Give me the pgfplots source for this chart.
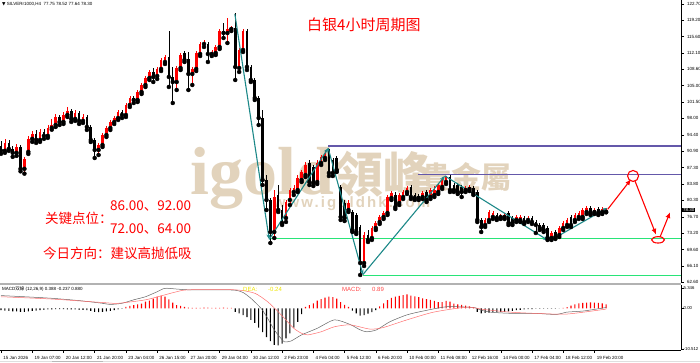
\documentclass[border=0pt]{standalone}
\usepackage{fontspec}
\setmainfont{Liberation Sans}
\newfontfamily\cjk{Noto Sans CJK SC}
\newfontfamily\dejavu{DejaVu Sans}
\newfontfamily\wmserif{Liberation Serif}
\newfontfamily\wmsans[LetterSpace=14]{Liberation Sans}
\usepackage{pgfplots}
\pgfplotsset{compat=1.18}
\usepackage{pgfplotstable}
\usetikzlibrary{arrows.meta}

\definecolor{zig}{RGB}{28,136,136}
\definecolor{purp}{RGB}{100,88,170}
\definecolor{grn}{RGB}{40,228,120}
\definecolor{wm}{RGB}{226,211,188}
\definecolor{dea}{RGB}{238,228,0}
\definecolor{macdred}{RGB}{255,70,70}
\definecolor{difgray}{RGB}{100,100,100}
\definecolor{dealine}{RGB}{255,110,110}

\pgfplotstableread{
i o h l c
0 92.01 93.09 90.28 90.93
1 90.93 93.52 90.50 92.66
2 92.66 93.31 90.93 91.36
3 91.36 92.01 89.63 90.50
4 90.50 92.44 89.85 91.79
5 91.79 92.23 86.50 87.04
6 87.04 89.63 86.00 89.20
7 90.70 94.16 90.27 93.51
8 93.51 95.24 92.86 94.59
9 94.59 95.45 92.65 93.29
10 93.29 95.67 92.86 95.02
11 95.02 95.67 93.51 94.16
12 94.16 96.53 93.73 95.89
13 95.89 97.82 95.50 96.52
14 96.52 98.90 96.09 98.25
15 98.25 98.68 96.52 97.17
16 97.17 99.33 96.74 98.68
17 98.68 100.41 98.25 99.55
18 99.55 99.98 97.17 97.82
19 97.82 99.76 97.39 99.11
20 99.11 99.55 96.74 97.39
21 97.39 98.90 96.95 98.25
22 98.25 98.68 95.44 96.09
23 96.09 96.50 92.84 93.27
24 93.27 93.70 89.38 91.11
25 91.11 92.62 90.03 92.19
26 92.19 94.78 91.76 94.35
27 94.35 96.29 93.92 95.86
28 95.86 97.59 95.43 97.16
29 97.16 98.45 96.73 98.02
30 98.02 99.75 97.59 99.32
31 99.32 99.75 98.02 98.67
32 98.67 101.26 98.24 100.83
33 100.83 102.77 100.40 102.34
34 102.34 102.77 101.26 101.91
35 101.91 104.07 101.48 103.64
36 103.64 105.58 103.21 105.15
37 105.15 107.09 104.72 106.66
38 106.66 108.39 106.23 107.96
39 107.96 108.82 105.80 106.88
40 107.09 109.04 106.45 108.61
41 108.61 110.98 108.17 110.55
42 110.12 111.63 109.69 111.20
43 111.20 116.81 104.72 106.88
44 106.88 109.04 101.26 105.80
45 105.80 109.25 104.07 108.82
46 108.82 112.06 108.39 111.63
47 112.06 112.49 110.12 110.55
48 110.77 112.28 104.07 107.53
49 107.53 109.04 105.15 108.61
50 108.61 112.49 108.17 112.06
51 111.85 114.44 111.41 114.01
52 114.01 114.87 113.36 114.08
53 114.01 114.44 110.12 111.85
54 111.85 112.71 111.41 112.28
55 112.06 113.79 111.63 113.36
56 113.36 117.25 112.93 116.81
57 116.81 118.54 115.30 116.38
58 116.38 119.62 114.22 117.25
59 117.25 117.89 116.81 117.46
60 117.46 120.70 106.23 109.04
61 108.82 113.14 107.96 112.71
62 112.71 117.25 112.28 116.81
63 116.81 117.25 108.39 109.04
64 109.04 109.47 105.80 106.23
65 106.23 106.66 101.91 102.34
66 102.34 102.77 96.51 98.02
67 98.02 99.75 83.55 84.63
68 84.63 85.71 78.15 80.31
69 80.31 80.74 71.02 73.40
70 73.40 82.47 72.10 80.96
71 81.39 83.55 77.72 78.15
72 78.15 79.23 74.91 75.34
73 76.42 80.31 75.56 79.88
74 80.31 82.90 79.23 82.47
75 82.04 83.55 81.39 82.90
76 82.47 85.71 82.04 85.06
77 84.63 86.79 84.20 86.36
78 85.71 88.52 85.28 87.87
79 88.30 88.95 83.55 84.20
80 87.44 87.87 83.33 83.98
81 84.20 88.95 83.77 88.30
82 88.30 90.03 87.87 89.60
83 89.38 90.89 88.95 90.46
84 91.11 91.33 85.49 86.14
85 88.95 89.38 85.49 86.14
86 89.38 89.81 86.36 86.79
87 83.12 83.55 75.99 76.64
88 79.66 80.31 75.77 76.42
89 78.15 80.31 77.72 79.66
90 77.72 78.15 73.40 73.83
91 77.07 77.50 72.97 73.40
92 74.48 74.91 64.11 66.70
93 66.70 73.40 66.05 72.75
94 72.75 73.83 71.24 71.67
95 72.10 74.69 71.67 74.26
96 74.26 75.77 73.83 75.34
97 75.56 77.07 75.13 76.64
98 76.64 77.93 76.21 77.50
99 77.50 81.39 77.07 80.96
100 80.74 82.25 80.31 81.82
101 81.39 82.04 78.37 78.80
102 79.66 81.82 79.23 81.39
103 80.96 82.47 80.53 82.04
104 82.04 83.33 81.61 82.90
105 83.12 83.55 80.53 80.96
106 81.39 81.82 80.31 80.74
107 81.17 81.61 80.31 80.74
108 80.96 82.25 80.53 81.82
109 82.04 82.47 79.88 80.31
110 80.96 82.90 80.53 82.47
111 81.39 83.33 80.96 82.47
112 82.04 83.98 81.61 83.55
113 83.12 85.06 82.69 84.63
114 84.20 85.49 83.77 85.28
115 85.28 85.71 82.04 82.47
116 83.55 83.98 82.04 82.47
117 83.55 83.98 81.61 82.04
118 83.12 83.55 80.96 82.04
119 82.47 83.33 82.04 82.90
120 82.69 83.55 82.25 83.12
121 82.90 83.33 81.39 81.82
122 82.04 82.47 75.56 75.99
123 75.99 76.42 73.40 74.48
124 74.91 76.42 74.48 75.99
125 75.99 78.15 75.56 77.72
126 76.64 77.93 76.21 77.50
127 77.07 77.50 75.99 76.42
128 76.64 77.29 76.21 76.85
129 76.64 77.50 76.21 77.07
130 77.50 77.93 74.91 75.34
131 76.42 76.85 74.91 75.34
132 75.99 77.07 75.56 76.64
133 75.99 77.07 75.56 76.64
134 76.42 76.85 75.13 75.56
135 75.99 76.85 75.56 76.42
136 76.42 76.85 75.13 75.56
137 75.56 75.99 73.18 74.91
138 74.91 75.34 73.83 74.26
139 74.91 75.34 73.40 73.83
140 74.26 74.69 71.67 72.10
141 72.10 73.61 71.67 73.18
142 73.40 73.83 71.89 72.32
143 72.75 74.69 72.32 74.26
144 74.26 75.77 73.83 75.34
145 74.91 76.42 74.48 75.99
146 76.64 77.07 74.48 74.91
147 75.99 77.50 75.56 77.07
148 76.64 77.93 76.21 77.50
149 76.64 78.58 76.21 78.15
150 77.72 79.01 77.29 78.58
151 78.58 79.01 77.07 77.50
152 77.72 78.58 77.29 78.15
153 78.37 78.80 77.07 77.50
154 77.72 78.80 77.29 78.37
155 77.75 78.52 77.64 78.30
}\candles

\pgfplotstableread{
i h
0 -0.5
1 -0.6
2 -0.7
3 -0.8
4 -0.8
5 -0.9
6 -0.9
7 -0.8
8 -0.7
9 -0.6
10 -0.5
11 -0.4
12 -0.3
13 -0.3
14 -0.2
15 -0.2
16 -0.2
17 -0.3
18 -0.3
19 -0.3
20 -0.4
21 -0.4
22 -0.5
23 -0.7
24 -0.9
25 -1.0
26 -0.9
27 -0.8
28 -0.7
29 -0.5
30 -0.3
31 -0.1
32 0.4
33 0.6
34 0.8
35 1.0
36 1.2
37 1.7
38 2.0
39 2.5
40 3.0
41 3.3
42 3.0
43 2.3
44 1.5
45 0.8
46 0.6
47 0.4
48 0.2
49 0.1
50 0.1
51 0.1
52 0.2
53 0.2
54 0.1
55 0.1
56 0.1
57 0.2
58 0.1
59 0.1
60 -0.9
61 -1.3
62 -1.8
63 -2.3
64 -3.0
65 -3.8
66 -5.0
67 -6.2
68 -7.5
69 -8.5
70 -9.5
71 -9.6
72 -9.2
73 -7.8
74 -6.5
75 -5.0
76 -3.5
77 -1.5
78 0.4
79 0.8
80 1.3
81 2.0
82 2.4
83 2.8
84 3.0
85 2.9
86 2.5
87 1.6
88 0.9
89 0.4
90 -0.6
91 -1.3
92 -1.9
93 -1.8
94 -1.4
95 -1.0
96 -0.5
97 0.5
98 1.3
99 2.1
100 2.7
101 3.0
102 3.2
103 3.4
104 3.6
105 3.3
106 3.1
107 2.9
108 2.6
109 2.4
110 2.2
111 1.9
112 1.6
113 1.6
114 1.9
115 1.7
116 1.2
117 1.0
118 0.9
119 0.7
120 0.5
121 0.3
122 -0.9
123 -1.3
124 -1.2
125 -1.1
126 -1.0
127 -1.0
128 -0.9
129 -0.9
130 -0.8
131 -0.7
132 -0.5
133 -0.4
134 -0.3
135 -0.2
136 -0.2
137 -0.1
138 -0.1
139 -0.1
140 -0.1
141 -0.1
142 -0.1
143 -0.05
144 0.1
145 0.3
146 0.7
147 1.0
148 1.3
149 1.4
150 1.5
151 1.55
152 1.5
153 1.4
154 1.3
155 1.0
}\hist

\begin{document}
\begin{tikzpicture}[x=1pt,y=1pt]
\path[use as bounding box] (0,0) rectangle (700,363);
% watermark
\node[anchor=base west, inner sep=0, text=wm] at (190,168) {\fontsize{68}{68}\selectfont\wmserif\bfseries igold};
\node[inner sep=0, text=wm] at (383,189) {\fontsize{48}{48}\selectfont\cjk\bfseries 領峰};
\node[inner sep=0, text=wm] at (466,186) {\fontsize{30}{30}\selectfont\cjk\bfseries 貴金屬};
\node[inner sep=0, text=wm] at (352,159) {\fontsize{15}{15}\selectfont\wmsans\bfseries www.igoldhk.com};

\begin{axis}[
  at={(0pt,80pt)}, anchor=south west, scale only axis,
  width=681pt, height=283pt,
  xmin=-0.256, xmax=174.18, ymin=62.38, ymax=123.51,
  axis x line=none, axis y line*=right,
  axis line style={-, black, line width=0.6pt},
  every outer y axis line/.append style={-},
  ytick={62.6,66.1,69.6,73.2,76.7,80.3,83.8,87.3,90.9,94.4,98.0,101.5,105.0,108.6,112.1,115.6,119.2,122.7},
  yticklabel style={font=\fontsize{4.5}{5}\selectfont, xshift=-0.5pt, /pgf/number format/fixed, /pgf/number format/fixed zerofill, /pgf/number format/precision=2, /pgf/number format/assume math mode=true},
  scaled y ticks=false,
  tick align=outside, major tick length=3pt,
  tick style={black, line width=0.4pt},
]
% level lines
\addplot[purp, line width=1.3pt] coordinates {(83.8,92.0)(174.18,92.0)};
\addplot[purp, line width=1.3pt] coordinates {(106.8,85.85)(174.18,85.85)};
\addplot[grn, line width=1.3pt] coordinates {(68.9,72.0)(174.18,72.0)};
\addplot[grn, line width=1.3pt] coordinates {(92.8,64.0)(174.18,64.0)};
% candles: wicks
\addplot[only marks, mark=none, restrict expr to domain={\thisrow{c}-\thisrow{o}}{0:1000},
  error bars/.cd, y dir=plus, y explicit, error mark=none, error bar style={draw=red, line width=0.6pt}]
  table[x=i, y=l, y error expr=\thisrow{h}-\thisrow{l}] {\candles};
\addplot[only marks, mark=none, restrict expr to domain={\thisrow{c}-\thisrow{o}}{-1000:-0.00001},
  error bars/.cd, y dir=plus, y explicit, error mark=none, error bar style={draw=black, line width=0.6pt}]
  table[x=i, y=l, y error expr=\thisrow{h}-\thisrow{l}] {\candles};
% bodies
\addplot[only marks, mark=none, restrict expr to domain={\thisrow{c}-\thisrow{o}}{0:1000},
  error bars/.cd, y dir=plus, y explicit, error mark=none, error bar style={draw=red, line width=2.6pt}]
  table[x=i, y=o, y error expr=\thisrow{c}-\thisrow{o}] {\candles};
\addplot[only marks, mark=none, restrict expr to domain={\thisrow{c}-\thisrow{o}}{-1000:-0.00001},
  error bars/.cd, y dir=plus, y explicit, error mark=none, error bar style={draw=black, line width=2.6pt}]
  table[x=i, y=c, y error expr=\thisrow{o}-\thisrow{c}] {\candles};
% zigzag
\addplot[zig, line width=1.1pt, -{Stealth[length=5pt,width=4pt]}] coordinates {(59.9,120.5)(68.7,71.8)};
\addplot[zig, line width=1.1pt, -{Stealth[length=5pt,width=4pt]}] coordinates {(68.7,71.8)(83.8,91.5)};
\addplot[zig, line width=1.1pt, -{Stealth[length=5pt,width=4pt]}] coordinates {(83.8,91.5)(92.7,64.2)};
\addplot[zig, line width=1.1pt, -{Stealth[length=5pt,width=4pt]}] coordinates {(92.7,64.2)(113.7,85.5)};
\addplot[zig, line width=1.1pt, -{Stealth[length=5pt,width=4pt]}] coordinates {(113.7,85.5)(140.1,71.6)};
\addplot[zig, line width=1.1pt, -{Stealth[length=5pt,width=4pt]}] coordinates {(141.2,71.8)(155.3,78.6)};
% red forecast
\addplot[red, line width=1.1pt, -{Latex[length=6pt,width=5pt]}] coordinates {(155.4,78.3)(161.4,84.8)};
\addplot[red, only marks, mark=o, mark size=5.5pt, mark options={line width=1.1pt}] coordinates {(161.9,85.5)};
\addplot[red, line width=1.1pt, -{Latex[length=6pt,width=5pt]}] coordinates {(162.4,84.4)(167.8,72.8)};
\addplot[red, only marks, mark=o, mark size=3.2pt, mark options={xscale=2, line width=1.1pt}] coordinates {(168.3,71.7)};
\addplot[red, line width=1.1pt, -{Latex[length=6pt,width=5pt]}] coordinates {(168.8,72.3)(171.4,77.7)};
\end{axis}

\begin{axis}[
  at={(0pt,13pt)}, anchor=south west, scale only axis,
  width=681pt, height=65pt,
  xmin=-0.256, xmax=174.18, ymin=-10.83, ymax=6.05,
  axis x line*=bottom, axis y line*=right,
  axis line style={-, black, line width=0.6pt},
  every outer x axis line/.append style={-},
  every outer y axis line/.append style={-},
  ytick={-10.512,0,5.346}, yticklabels={-10.512,0.00,5.346},
  xtick={0,8,...,152},
  xticklabels={15 Jan 2026,19 Jan 07:00,20 Jan 12:00,21 Jan 20:00,23 Jan 04:00,26 Jan 15:00,27 Jan 20:00,29 Jan 04:00,30 Jan 12:00,2 Feb 23:00,4 Feb 04:00,5 Feb 12:00,6 Feb 20:00,10 Feb 00:00,11 Feb 08:00,12 Feb 16:00,14 Feb 00:00,17 Feb 04:00,18 Feb 12:00,19 Feb 20:00},
  xticklabel style={font=\fontsize{4.5}{5}\selectfont, anchor=north west, xshift=-1.2pt},
  yticklabel style={font=\fontsize{4.3}{5}\selectfont, xshift=-1.5pt, inner sep=1pt},
  tick align=outside, major tick length=3pt,
  tick style={black, line width=0.4pt},
]
\addplot[ybar, bar width=1.1pt, bar shift=0pt, draw=none, fill=red, restrict expr to domain={\thisrow{h}}{0:100}] table[x=i, y=h] {\hist};
\addplot[ybar, bar width=1.1pt, bar shift=0pt, draw=none, fill=black, restrict expr to domain={\thisrow{h}}{-100:-0.00001}] table[x=i, y=h] {\hist};
\addplot[difgray, line width=0.5pt, smooth, tension=0.4] coordinates {(0,3.3)(6,3.0)(13,2.6)(20,2.0)(26,1.3)(28,1.0)(31,1.3)(34,2.2)(37,3.0)(40,4.3)(42,5.2)(45,5.0)(48,4.8)(55,4.8)(60,4.7)(62,4.1)(64,2.6)(66.6,0)(68.3,-2.6)(70,-5.6)(71.7,-7.8)(72.6,-8.7)(74.3,-8.5)(77,-6.9)(81,-5.2)(85.4,-3.0)(89.4,-4.2)(92,-5.6)(93.7,-6.1)(96.2,-5.6)(99.6,-3.5)(104,-1.7)(108.2,-0.7)(114.2,0.4)(121,0.2)(122.7,-0.4)(125.3,-1.0)(130.4,-1.3)(136.4,-1.3)(142.3,-1.6)(144.9,-1.0)(149.2,-0.7)(155,0.2)};
\addplot[dealine, line width=0.5pt, smooth, tension=0.4] coordinates {(0,3.0)(13,2.4)(26,1.5)(30,1.3)(37,2.2)(42,3.5)(45,4.3)(48,4.8)(60,4.8)(65,3.9)(68.3,1.7)(71,-0.9)(72.6,-2.6)(75,-5.2)(77,-6.5)(78.6,-6.9)(82,-6.1)(85.4,-4.8)(89.4,-4.3)(94.5,-5.4)(97.9,-5.0)(104,-3.0)(110.8,-1.0)(119.3,0.3)(123.6,-0.3)(130.4,-1.0)(136.4,-1.3)(144.9,-1.5)(155,-0.2)};
\end{axis}

% panel separator and misc
\draw[gray!60, line width=2pt] (0,79) -- (681,79);
\draw[gray!25, line width=1pt] (0,1.5) -- (700,1.5);
\draw[gray!55, line width=1pt] (52,1.5) -- (103,1.5);
\node[fill=black, text=white, inner sep=0.8pt, anchor=west, font=\fontsize{4.5}{5}\selectfont] at (682,153) {78.30};

% texts
\node[anchor=west, inner sep=0, font=\fontsize{4.5}{5}\selectfont] at (2,359) {{\dejavu ▼} SILVERr1000,H4\ \ 77.75 78.52 77.64 78.30};
\node[anchor=west, inner sep=0, font=\fontsize{4.5}{5}\selectfont] at (2,74) {MACD{\cjk 双線} (12,26,9) 0.388 -0.237 0.880};
\node[anchor=west, inner sep=0, text=dea, font=\fontsize{6}{6}\selectfont] at (243,74) {DEA:};
\node[anchor=west, inner sep=0, text=dea, font=\fontsize{6}{6}\selectfont] at (268,74) {-0.24};
\node[anchor=west, inner sep=0, text=macdred, font=\fontsize{6}{6}\selectfont] at (342,74) {MACD:};
\node[anchor=west, inner sep=0, text=macdred, font=\fontsize{6}{6}\selectfont] at (372,74) {0.89};

\node[anchor=west, inner sep=0, text=red] at (307,338) {\fontsize{15}{15}\selectfont\cjk 白银4小时周期图};
\node[anchor=west, inner sep=0, text=red] at (45,145) {\fontsize{13.5}{13.5}\selectfont\cjk 关键点位：};
\node[anchor=west, inner sep=0, text=red] at (110,157) {\fontsize{13.5}{13.5}\selectfont\cjk 86.00、92.00};
\node[anchor=west, inner sep=0, text=red] at (110,134) {\fontsize{13.5}{13.5}\selectfont\cjk 72.00、64.00};
\node[anchor=west, inner sep=0, text=red] at (43,110) {\fontsize{13.5}{13.5}\selectfont\cjk 今日方向：建议高抛低吸};
\end{tikzpicture}
\end{document}
